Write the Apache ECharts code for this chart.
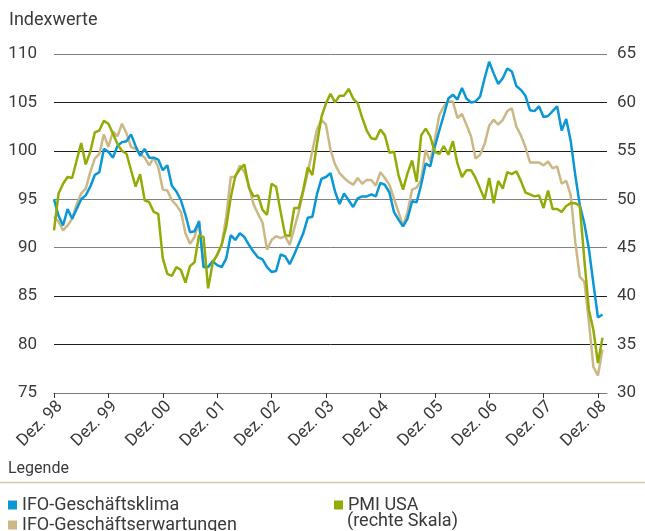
<!DOCTYPE html>
<html lang="de">
<head>
<meta charset="UTF-8">
<title>IFO und PMI USA</title>
<script src="https://cdn.jsdelivr.net/npm/echarts@6/dist/echarts.min.js"></script>
<style>
    html, body { margin: 0; padding: 0; background: #fff; }
    #chart { width: 645px; height: 531px; }
</style>
</head>
<body>
<div id="chart"></div>
<script>
    // Monatswerte Dez. 98 bis Jan. 09
    var ifoKlima = [
        95.0, 93.3, 92.3, 94.0, 93.0, 94.0, 95.0, 95.4, 96.3, 97.5, 97.8, 100.2,
        99.9, 99.3, 100.5, 100.9, 101.0, 101.7, 100.5, 99.5, 100.2, 99.3, 99.3, 99.1,
        98.0, 98.5, 96.4, 95.8, 94.9, 93.4, 91.6, 91.7, 92.7, 88.0, 88.0, 88.6,
        88.2, 88.0, 88.9, 91.3, 90.8, 91.5, 91.1, 90.3, 89.6, 89.0, 88.8, 88.0,
        87.5, 87.6, 89.3, 89.1, 88.3, 89.3, 90.4, 91.5, 93.1, 93.2, 95.5, 97.1,
        97.3, 97.7, 95.8, 94.5, 95.6, 94.9, 94.2, 95.1, 95.3, 95.3, 95.5, 95.3,
        96.7, 96.5, 95.7, 93.7, 92.9, 92.2, 93.0, 94.8, 94.7, 96.5, 98.7, 98.4,
        100.4, 102.1, 103.7, 105.4, 105.8, 105.3, 106.5, 105.4, 105.0, 105.1, 105.6, 107.5,
        109.2, 108.0, 106.9, 107.5, 108.5, 108.2, 106.7, 106.3, 105.7, 104.2, 104.1, 104.6,
        103.5, 103.6, 104.1, 104.6, 102.1, 103.3, 101.0, 97.5, 94.4, 92.5, 89.9, 86.3,
        82.8, 83.1
    ];
    var ifoErwartungen = [
        93.2, 92.7, 91.8, 92.3, 93.0, 94.5, 95.6, 96.1, 97.8, 99.2, 99.7, 101.7,
        100.4, 102.0, 101.5, 102.8, 101.8, 100.4, 100.2, 99.7, 99.3, 98.5, 99.3, 98.3,
        96.0, 95.9, 94.9, 94.4, 93.7, 91.5, 90.4, 91.1, 92.8, 88.0, 88.0, 88.6,
        89.2, 90.3, 93.2, 97.3, 97.3, 98.5, 97.8, 96.4, 94.5, 93.5, 92.6, 89.8,
        90.8, 91.2, 91.0, 91.2, 90.3, 92.0, 93.7, 95.8, 97.8, 100.0, 102.2, 103.2,
        102.7, 100.1, 98.6, 97.7, 97.2, 96.8, 96.5, 97.2, 96.6, 97.0, 97.0, 96.4,
        97.8, 97.2, 96.5, 95.1, 93.7, 92.2, 93.7, 96.0, 96.2, 97.0, 100.1, 98.9,
        101.1, 103.7, 104.6, 105.1, 105.1, 103.4, 103.8, 102.7, 101.5, 99.2, 99.6, 100.7,
        102.6, 103.2, 102.7, 103.2, 104.1, 104.4, 102.5, 101.6, 100.4, 98.8, 98.8, 98.8,
        98.5, 98.9, 98.2, 98.4, 96.6, 96.9, 95.4, 90.6, 87.0, 86.5, 82.4, 77.7,
        76.8, 79.5
    ];
    // rechte Skala
    var pmiUsa = [
        46.8, 50.6, 51.6, 52.3, 52.2, 54.0, 55.8, 53.6, 54.9, 56.9, 57.1, 58.1,
        57.8, 56.8, 55.7, 55.0, 54.7, 53.0, 51.3, 52.6, 49.9, 49.7, 48.7, 48.5,
        43.9, 42.3, 42.1, 43.0, 42.7, 41.4, 43.1, 43.5, 46.3, 46.1, 40.8, 43.4,
        44.3, 45.3, 47.2, 50.2, 52.4, 53.1, 53.6, 51.2, 50.3, 50.4, 48.9, 48.4,
        51.6, 51.3, 48.7, 46.3, 46.2, 49.1, 49.1, 51.0, 53.3, 52.5, 55.7, 58.5,
        59.9, 60.9, 60.0, 60.7, 60.7, 61.4, 60.4, 59.9, 58.4, 57.1, 56.3, 56.2,
        57.2, 56.6, 54.8, 54.9, 52.5, 51.0, 52.7, 54.0, 51.8, 56.6, 57.3, 56.5,
        54.9, 54.7, 55.5, 54.6, 56.0, 53.7, 52.3, 53.0, 53.0, 52.2, 51.1, 50.0,
        52.2, 49.6, 51.9, 51.1, 52.8, 52.6, 52.9, 51.9, 50.7, 50.5, 50.3, 50.4,
        49.1, 50.9, 49.0, 49.0, 48.7, 49.3, 49.6, 49.6, 49.3, 43.8, 38.6, 36.5,
        33.1, 35.7
    ];

    var monatsNamen = ['Jan.', 'Feb.', 'Mrz.', 'Apr.', 'Mai', 'Jun.', 'Jul.', 'Aug.', 'Sep.', 'Okt.', 'Nov.', 'Dez.'];
    var jahre = ['99', '00', '01', '02', '03', '04', '05', '06', '07', '08', '09'];
    var tickLabels = ['Dez. 98', 'Dez. 99', 'Dez. 00', 'Dez. 01', 'Dez. 02', 'Dez. 03',
        'Dez. 04', 'Dez. 05', 'Dez. 06', 'Dez. 07', 'Dez. 08'];

    // Kategorien: Dez. 98 ... Feb. 09 (Achse laeuft etwas ueber das letzte Datum hinaus)
    var monate = ['Dez. 98'];
    jahre.forEach(function (j) {
        monatsNamen.forEach(function (m) {
            if (monate.length < 123) monate.push(m + ' ' + j);
        });
    });

    var farbeKlima = '#0a97d5',
        farbeErw = '#cbb886',
        farbePmi = '#93ab06',
        schrift = 'Roboto, "DejaVu Sans", sans-serif',
        textFarbe = '#3a3a3a';

    function istTick(index, value) {
        return tickLabels.indexOf(value) !== -1;
    }

    function legende(name, left, top) {
        return {
            data: [name],
            left: left,
            top: top,
            itemWidth: 9,
            itemHeight: 9,
            icon: 'rect',
            selectedMode: false,
            textStyle: {fontSize: 18, color: textFarbe, fontFamily: schrift}
        };
    }

    var chart = echarts.init(document.getElementById('chart'));
    chart.setOption({
        animation: false,
        textStyle: {fontFamily: schrift},
        grid: {left: 54, right: 38, top: 54, bottom: 138},
        graphic: [
            {type: 'text', left: 9, top: 11, style: {text: 'Indexwerte', fontSize: 18, fill: textFarbe, fontFamily: schrift}},
            {type: 'text', left: 8, top: 461, style: {text: 'Legende', fontSize: 16, fill: textFarbe, fontFamily: schrift}},
            {type: 'line', shape: {x1: 0, y1: 482.5, x2: 645, y2: 482.5}, style: {stroke: '#d6c89f', lineWidth: 1.5}},
            {type: 'text', left: 347, top: 512, style: {text: '(rechte Skala)', fontSize: 18, fill: textFarbe, fontFamily: schrift}}
        ],
        legend: [
            legende('IFO-Geschäftsklima', 3, 491),
            legende('IFO-Geschäftserwartungen', 3, 511),
            legende('PMI USA', 329, 491)
        ],
        xAxis: {
            type: 'category',
            data: monate,
            boundaryGap: false,
            axisLine: {lineStyle: {color: '#7a7a7a', width: 1}},
            axisTick: {interval: istTick, length: 5, lineStyle: {color: '#333'}},
            axisLabel: {
                interval: istTick,
                rotate: 45,
                margin: 5,
                verticalAlign: 'top',
                fontSize: 17,
                color: textFarbe
            },
            splitLine: {show: false}
        },
        yAxis: [{
            type: 'value',
            min: 75,
            max: 110,
            interval: 5,
            position: 'left',
            axisLine: {show: false},
            axisTick: {show: false},
            axisLabel: {margin: 17, fontSize: 17, color: textFarbe},
            splitLine: {
                lineStyle: {
                    color: ['#808080', '#1e1e1e', '#1e1e1e', '#808080', '#808080', '#1e1e1e', '#1e1e1e', '#808080'],
                    width: 1
                }
            }
        }, {
            type: 'value',
            min: 30,
            max: 65,
            interval: 5,
            position: 'right',
            axisLine: {show: false},
            axisTick: {show: false},
            axisLabel: {margin: 10, fontSize: 17, color: textFarbe},
            splitLine: {show: false}
        }],
        series: [{
            name: 'IFO-Geschäftserwartungen',
            type: 'line',
            data: ifoErwartungen,
            showSymbol: false,
            itemStyle: {color: farbeErw},
            lineStyle: {color: farbeErw, width: 2.5}
        }, {
            name: 'IFO-Geschäftsklima',
            type: 'line',
            data: ifoKlima,
            showSymbol: false,
            itemStyle: {color: farbeKlima},
            lineStyle: {color: farbeKlima, width: 2.5}
        }, {
            name: 'PMI USA',
            type: 'line',
            yAxisIndex: 1,
            data: pmiUsa,
            showSymbol: false,
            itemStyle: {color: farbePmi},
            lineStyle: {color: farbePmi, width: 2.5}
        }]
    });
</script>
</body>
</html>
